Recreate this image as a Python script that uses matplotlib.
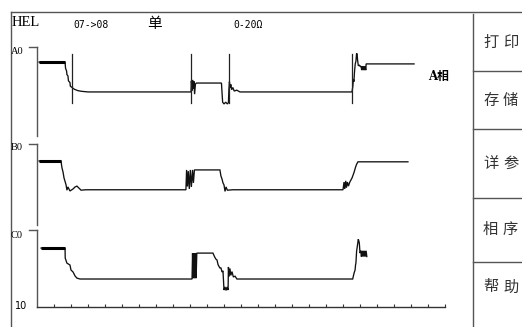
import matplotlib
matplotlib.use("Agg")
import matplotlib.pyplot as plt
from matplotlib.lines import Line2D

plt.rcParams['font.family'] = ['DejaVu Sans', 'Noto Sans CJK SC']

W, H = 522, 327

# ---- data: contact resistance traces (time in ms, value in ohm, 0-20 range) ----
a_t = [1.2, 16.5, 16.8, 17.4, 17.6, 18.2, 18.5, 19.4, 19.6, 20.6, 22.0, 24.0, 26.0, 30.0,
       90.6, 90.8, 91.2, 91.5, 91.9, 92.3, 92.7, 93.2, 93.8, 108.5, 108.8, 109.2, 110.0,
       111.0, 112.0, 112.6, 112.9, 113.2, 113.6, 114.0, 114.5, 115.2, 116.0, 117.5, 119.4,
       185.3, 185.8, 186.1, 186.4, 186.8, 187.2, 187.6, 188.0, 188.3, 188.6, 189.0, 189.6,
       190.2, 190.6, 191.0, 191.4, 191.8, 192.2, 192.6, 193.0, 193.4, 193.6, 221.8]
a_v = [16.6, 16.6, 15.2, 14.6, 13.8, 13.5, 12.4, 12.0, 11.2, 10.9, 10.5, 10.2, 10.05, 9.9,
       9.9, 12.4, 10.2, 12.6, 10.6, 12.3, 9.4, 11.7, 11.9, 11.9, 10.0, 7.6, 7.2,
       7.6, 7.2, 7.5, 10.5, 12.2, 10.8, 11.6, 10.4, 10.9, 10.1, 10.3, 9.9,
       9.9, 11.2, 12.8, 12.2, 14.6, 16.2, 16.8, 18.6, 18.3, 17.0, 15.8, 15.9,
       15.6, 15.7, 14.8, 15.7, 14.8, 15.7, 14.8, 15.7, 14.8, 16.2, 16.2]

b_t = [1.2, 14.1, 14.7, 15.3, 15.9, 17.1, 17.6, 18.2, 19.4, 21.2, 22.4, 23.5, 24.7, 25.9,
       28.8, 87.6, 88.0, 88.5, 89.0, 89.6, 90.2, 90.8, 91.5, 92.0, 92.6, 107.6, 108.2,
       108.8, 109.4, 110.0, 110.6, 111.2, 112.0, 115.3, 180.0, 180.6, 181.0, 181.6, 182.0,
       182.6, 183.2, 184.0, 185.3, 186.5, 187.4, 188.0, 188.8, 218.2]
b_v = [15.8, 15.8, 14.1, 13.1, 11.6, 9.9, 8.6, 9.4, 8.4, 8.9, 9.4, 9.6, 9.1, 8.6,
       8.7, 8.7, 13.6, 9.5, 13.3, 8.9, 13.6, 9.4, 13.6, 10.4, 13.6, 13.6, 12.1,
       11.4, 10.4, 9.9, 8.3, 9.4, 8.6, 8.7, 8.7, 10.6, 8.9, 10.9, 9.2,
       10.6, 9.6, 10.6, 11.6, 13.0, 14.3, 15.0, 15.6, 15.6]

c_t = [2.4, 16.5, 16.6, 17.6, 19.4, 20.0, 21.2, 22.4, 23.5, 25.3, 91.2, 91.5, 91.8, 92.1,
       92.4, 92.7, 93.0, 93.3, 93.6, 94.0, 103.5, 104.5, 105.3, 105.9, 106.5, 107.6, 108.2,
       108.8, 109.4, 110.0, 110.6, 111.2, 111.8, 112.4, 112.6, 113.0, 113.5, 114.0, 114.7,
       115.5, 116.5, 117.6, 185.7, 186.5, 187.1, 187.4, 187.6, 188.0, 188.4, 189.0, 189.3,
       189.6, 190.0, 190.6, 190.8, 191.2, 191.6, 192.0, 192.4, 192.8, 193.2, 193.6, 194.0]
c_v = [15.3, 15.3, 12.7, 11.4, 10.9, 9.6, 9.1, 8.05, 7.5, 7.27, 7.27, 14.0, 7.5, 14.0,
       7.5, 14.0, 7.5, 14.0, 7.5, 14.0, 14.0, 13.0, 12.4, 12.2, 11.0, 10.1, 10.2,
       9.1, 9.4, 4.4, 5.2, 4.3, 5.2, 4.4, 10.4, 7.9, 10.0, 8.2, 9.2,
       7.8, 8.0, 7.27, 7.27, 8.8, 9.6, 11.0, 11.4, 14.5, 15.7, 17.6, 17.2,
       16.6, 14.0, 14.6, 13.1, 14.6, 13.1, 14.6, 13.1, 14.6, 13.1, 14.6, 13.1]

# time cursors on channel A
marker_t = [20.6, 90.6, 112.9, 185.3]
marker_lo, marker_hi = 7.4, 18.4

channel_names = ["A0", "B0", "C0"]
menu_items = ["打印", "存储", "详参", "相序", "帮助"]
x_ticks = list(range(10, 250, 10))


def fx(px):
    return px / W


def fy(py):
    return 1 - py / H


fig = plt.figure(figsize=(W / 100, H / 100), dpi=100)
fig.patch.set_facecolor("white")

# panel geometry in pixels: (top, bottom)
x0, x1 = 37, 445
bands = [(47, 136), (144, 225), (230, 307)]
traces = [(a_t, a_v), (b_t, b_v), (c_t, c_v)]
label_y = [51, 148, 235]

axes = []
for i, ((top, bot), (t, v)) in enumerate(zip(bands, traces)):
    ax = fig.add_axes([fx(x0), fy(bot), fx(x1) - fx(x0), (bot - top) / H])
    ax.set_xlim(0, 240)
    ax.set_ylim(0, 20)
    ax.patch.set_alpha(0)
    for s in ["top", "right", "bottom"]:
        ax.spines[s].set_visible(False)
    ax.spines["left"].set_color("#555555")
    ax.spines["left"].set_linewidth(1.0)
    ax.set_yticks([])
    ax.set_xticks([])
    # bracket at top of the channel axis
    ax.plot([-8 / (x1 - x0), 0], [1, 1], transform=ax.transAxes, color="#555555",
            lw=1.0, clip_on=False)
    ax.plot(t, v, color="#111111", lw=0.95, clip_on=False, solid_joinstyle="miter")
    ax.plot(t[:2], v[:2], color="black", lw=2.2, clip_on=False, solid_capstyle="butt")
    fig.text(fx(11), fy(label_y[i]), channel_names[i], fontsize=7.5,
             family="Liberation Serif", va="center", ha="left")
    axes.append(ax)

ax_a, ax_b, ax_c = axes
for mt in marker_t:
    ax_a.plot([mt, mt], [marker_lo, marker_hi], color="#222222", lw=0.9, clip_on=False)

ax_c.spines["bottom"].set_visible(True)
ax_c.spines["bottom"].set_color("#333333")
ax_c.spines["bottom"].set_linewidth(1.0)
ax_c.set_xticks(x_ticks)
ax_c.tick_params(axis="x", direction="in", length=2.5, width=0.8, color="#333333",
                 labelbottom=False)
fig.text(fx(15), fy(306), "10", fontsize=7, va="center", ha="left")

# frame and side menu
line_kw = dict(color="#555555", lw=1.0)
fig.add_artist(Line2D([fx(11), 1], [fy(12), fy(12)], **line_kw))
fig.add_artist(Line2D([fx(11), fx(11)], [fy(12), 0], **line_kw))
fig.add_artist(Line2D([fx(473), fx(473)], [fy(14), 0], **line_kw))
for py in [71, 129, 198, 262]:
    fig.add_artist(Line2D([fx(473), 1], [fy(py), fy(py)], **line_kw))
menu_y = [42, 100, 163, 229, 287]
for label, py in zip(menu_items, menu_y):
    for k, ch in enumerate(label):
        fig.text(fx(483 + 20 * k), fy(py), ch, fontsize=11, color="#333333",
                 family="Noto Sans CJK SC", va="center", ha="left")

# header
fig.text(fx(12), fy(23), "HEL", fontsize=10.5, family="Liberation Serif", va="center")
fig.text(fx(73), fy(25), "07->08", fontsize=7, family="DejaVu Sans Mono", va="center")
fig.text(fx(147), fy(24), "单", fontsize=10.5, family="Noto Sans CJK SC", va="center")
fig.text(fx(233), fy(25), "0-20Ω", fontsize=7, family="DejaVu Sans Mono", va="center")
fig.text(fx(428), fy(76), "A相", fontsize=8.5, fontweight="bold",
         family=["DejaVu Serif", "Noto Sans CJK SC"], va="center")

fig.savefig("out.png", dpi=100, facecolor="white")
